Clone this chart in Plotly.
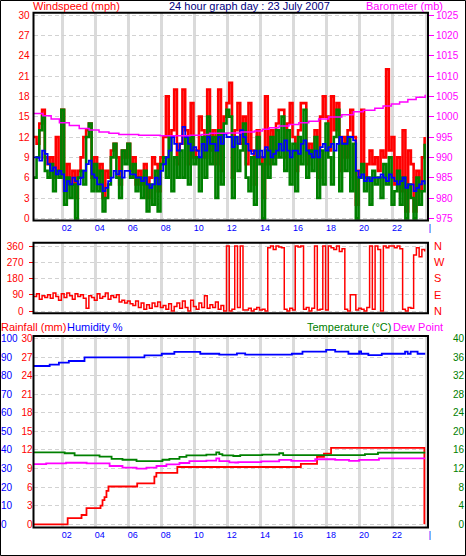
import plotly.graph_objects as go

W, H = 466, 556

# ---------------- data ----------------
start_hour = 0.25        # first sample 00:15
sample_step = 1 / 6      # 10-minute samples

wind_gust = [
    12, 11, 14, 16, 9,
    8, 9, 6, 12, 7, 16,
    4, 8, 5, 7, 3, 7,
    9, 12, 13, 14, 6, 9,
    6, 8, 3, 7, 6, 10,
    11, 9, 5, 10, 9, 11,
    7, 9, 5, 7, 5, 8,
    3, 6, 9, 8, 4, 9,
    12, 18, 12, 13, 19, 8,
    11, 19, 13, 8, 17, 9,
    10, 15, 13, 9, 19, 10,
    13, 8, 19, 7, 15, 17,
    20, 6, 13, 17, 11, 15,
    8, 17, 10, 5, 13, 9,
    3, 18, 8, 13, 9, 14,
    16, 16, 9, 14, 17, 12,
    7, 13, 17, 17, 8, 11,
    9, 13, 6, 15, 18, 15,
    10, 18, 13, 17, 7, 12,
    9, 13, 16, 12, 2, 7,
    16, 6, 8, 10, 8, 9,
    7, 10, 9, 22, 10, 12,
    5, 9, 4, 13, 1, 10,
    8, 1, 7, 4, 9, 12,
]
wind_speed = [
    6, 9, 13, 15, 7,
    6, 8, 4, 7, 6, 16,
    2, 6, 3, 5, 0, 6,
    7, 5, 12, 14, 4, 8,
    4, 7, 1, 3, 5, 9,
    11, 6, 3, 10, 8, 11,
    6, 8, 4, 6, 3, 7,
    1, 5, 2, 7, 1, 8,
    9, 6, 12, 4, 9, 6,
    10, 6, 12, 5, 12, 8,
    9, 4, 12, 6, 15, 8,
    12, 3, 13, 5, 14, 16,
    15, 3, 12, 7, 10, 14,
    6, 4, 9, 2, 12, 8,
    0, 10, 6, 12, 8, 13,
    9, 15, 7, 13, 5, 11,
    4, 12, 8, 16, 6, 10,
    7, 12, 3, 10, 5, 14,
    9, 5, 12, 16, 4, 11,
    7, 12, 4, 11, 0, 6,
    8, 4, 6, 2, 7, 5,
    6, 3, 8, 5, 9, 2,
    4, 7, 2, 6, 0, 5,
    3, 0, 6, 2, 4, 11,
]
wind_avg = [
    9, 9, 8.5, 10, 9.5,
    8, 7, 7.5, 6.5, 7, 6.5,
    4, 5.5, 5, 6, 5.5, 5,
    6, 7, 8, 8.5, 6.5, 6,
    5, 5, 4, 4.5, 5.5, 6,
    7, 6.5, 7, 6, 7, 7,
    6.5, 6.5, 6, 6, 5.5, 6,
    5, 4.5, 5, 6, 5, 7,
    8, 9, 10, 12, 11, 10,
    11, 13.5, 12, 11, 10, 10.5,
    10, 9, 11, 10, 12, 11,
    11, 10, 12, 11, 12.5, 12,
    12, 10.5, 12, 11, 13, 12,
    11, 10, 9.5, 10, 9, 10,
    9, 10.5, 10, 9, 9.5, 10,
    11, 10, 11.5, 10, 9, 10,
    10, 9.5, 11, 11.5, 10, 9.5,
    9, 10, 9, 10.5, 11, 10,
    10.5, 11, 10, 11, 12, 11,
    11, 12, 12, 11.5, 7, 6,
    6.5, 5.5, 6, 5.5, 6, 6,
    6, 6.5, 6, 5.5, 6.5, 6,
    5.5, 5, 5.5, 6, 4.5, 5,
    5, 4, 4.5, 5, 5.5, 5,
]
wind_dir = [
    80, 95, 65, 85, 75,
    90, 70, 100, 80, 60, 95,
    75, 100, 85, 65, 95, 80,
    90, 70, 15, 85, 75, 60,
    95, 70, 80, 100, 65, 85,
    75, 90, 50, 60, 45, 55,
    40, 30, 55, 20, 45, 10,
    35, 15, 45, 25, 50, 20,
    30, 10, 40, 0, 25, 45,
    15, 55, 20, 0, 60, 25,
    10, 45, 20, 85, 15, 35,
    20, 50, 10, 30, 0, 360,
    0, 10, 360, 20, 360, 5,
    5, 15, 0, 10, 20, 5,
    10, 0, 350, 360, 340, 360,
    355, 350, 10, 0, 15, 5,
    360, 355, 360, 10, 20, 0,
    15, 360, 5, 10, 360, 5,
    360, 350, 340, 360, 330, 345,
    10, 0, 90, 90, 5, 15,
    10, 0, 20, 360, 10, 360,
    340, 0, 360, 350, 360, 360,
    350, 360, 345, 10, 0, 20,
    15, 310, 350, 300, 340, 330,
]
sample_hours = [start_hour + i * sample_step for i in range(len(wind_gust))]

baro_hours = [0.25, 0.8, 1.3, 1.8, 2.4, 3.0, 3.6, 4.2, 4.8, 5.4, 6.6, 7.9, 9.7, 10.4,
              10.9, 12.0, 12.8, 13.6, 14.1, 14.5, 15.1, 15.7, 16.3, 16.9, 17.5, 18.1,
              18.9, 19.6, 20.2, 20.9, 21.4, 21.9, 22.4, 22.9, 23.4, 23.95]
baro_mb = [1000.8, 1000.2, 999.4, 998.5, 997.8, 997.1, 996.7, 996.2, 995.9, 995.6,
           995.4, 995.3, 995.4, 995.6, 995.9, 996.0, 996.2, 996.5, 996.9, 997.3,
           997.7, 998.1, 998.5, 998.9, 999.4, 999.9, 1000.5, 1001.2, 1001.6, 1002.1,
           1002.6, 1003.1, 1003.6, 1004.2, 1004.8, 1005.4]

hum_hours = [0.25, 1.21, 1.77, 2.37, 3.32, 6.95, 8.0, 8.76, 10.33, 11.48, 12.55, 13.05,
             15.88, 16.52, 17.95, 18.5, 19.3, 19.95, 20.07, 20.51, 21.32, 22.73, 22.89,
             23.07, 23.49, 23.95]
humidity = [85.2, 85.9, 87.0, 87.9, 89.8, 90.9, 91.8, 92.8, 91.8, 91.3, 92.0, 91.3,
            91.8, 92.9, 93.9, 92.9, 91.8, 93.0, 91.8, 91.1, 91.8, 92.9, 91.8, 92.9,
            91.8, 91.8]

temp_hours = [0.25, 2.12, 2.72, 4.23, 4.96, 5.62, 6.47, 8.04, 8.46, 9.07, 9.49, 10.7,
              11.3, 11.48, 11.67, 12.33, 12.75, 14.08, 15.11, 15.35, 20.3, 21.09, 23.95]
temperature = [15.5, 15.3, 14.85, 14.55, 14.1, 13.9, 13.6, 13.9, 14.1, 14.5, 14.85, 15.0,
               15.5, 15.1, 14.85, 14.7, 14.9, 15.0, 15.3, 14.9, 15.1, 15.45, 15.45]

dew_hours = [0.25, 1.0, 2.2, 3.45, 4.84, 5.62, 6.47, 7.07, 7.68, 8.28, 9.07, 9.67, 10.7,
             11.3, 11.48, 12.09, 12.45, 12.63, 14.02, 15.11, 15.84, 17.29, 18.5, 19.34,
             19.95, 21.15, 23.95]
dew_point = [12.97, 13.1, 13.25, 13.1, 12.55, 12.2, 12.0, 12.2, 12.55, 12.9, 13.2, 13.6,
             13.7, 14.2, 13.6, 13.35, 13.3, 13.4, 13.55, 13.85, 13.65, 14.0, 13.85, 13.65,
             13.85, 14.2, 14.2]

rain_hours = [0.25, 2.3, 3.14, 3.44, 4.29, 4.41, 4.53, 4.65, 4.77, 6.51, 7.55, 7.67,
              8.94, 16.42, 17.4, 17.82, 18.25, 23.9]
rainfall = [0, 1.0, 1.5, 2.6, 3.0, 3.9, 4.4, 5.4, 6.1, 6.6, 7.7, 8.3,
            9.25, 9.75, 10.9, 11.4, 12.35, 0]

time_tick_vals = [2, 4, 6, 8, 10, 12, 14, 16, 18, 20, 22, 24]
time_tick_text = ["02", "04", "06", "08", "10", "12", "14", "16", "18", "20", "22", "|"]
wind_ticks = [0, 3, 6, 9, 12, 15, 18, 21, 24, 27, 30]
baro_ticks = [975, 980, 985, 990, 995, 1000, 1005, 1010, 1015, 1020, 1025]
dir_ticks = [0, 90, 180, 270, 360]
compass_text = ["N", "E", "S", "W", "N"]
rain_ticks = [0, 3, 6, 9, 12, 15, 18, 21, 24, 27, 30]
hum_ticks = [0, 10, 20, 30, 40, 50, 60, 70, 80, 90, 100]
temp_ticks = [0, 4, 8, 12, 16, 20, 24, 28, 32, 36, 40]

# ---------------- style ----------------
FONT = "Liberation Sans, Arial, sans-serif"
RED, GREEN, BLUE, MAG, NAVY = "#ff0000", "#008000", "#0000ff", "#ff00ff", "#000080"
GRID_V, GRID_H = "#dadada", "#d2d2d2"


def px(x):
    return x / W


def py(y):
    return 1 - y / H


X_LEFT, X_RIGHT = 33.5, 428
TOP = (12.7, 220.5)
MID = (242.7, 313.3)
BOT = (336, 527.5)

fig = go.Figure()

# top panel
fig.add_trace(go.Scatter(x=sample_hours, y=wind_gust, mode="lines", line=dict(color=RED, width=2.6, shape="hv"),
                         xaxis="x", yaxis="y", hoverinfo="skip"))
fig.add_trace(go.Scatter(x=sample_hours, y=wind_speed, mode="lines", line=dict(color=GREEN, width=2.6, shape="hv"),
                         xaxis="x", yaxis="y", hoverinfo="skip"))
fig.add_trace(go.Scatter(x=sample_hours, y=wind_avg, mode="lines", line=dict(color=BLUE, width=1.8, shape="hv"),
                         xaxis="x", yaxis="y", hoverinfo="skip"))
fig.add_trace(go.Scatter(x=baro_hours, y=baro_mb, mode="lines", line=dict(color=MAG, width=1.5, shape="hv"),
                         xaxis="x", yaxis="y2", hoverinfo="skip"))
# middle panel
fig.add_trace(go.Scatter(x=sample_hours, y=wind_dir, mode="lines", line=dict(color=RED, width=1.5, shape="hv"),
                         xaxis="x2", yaxis="y3", hoverinfo="skip"))
fig.add_trace(go.Scatter(x=[], y=[], xaxis="x2", yaxis="y4", hoverinfo="skip"))
# bottom panel
fig.add_trace(go.Scatter(x=hum_hours, y=humidity, mode="lines", line=dict(color=BLUE, width=1.8, shape="hv"),
                         xaxis="x3", yaxis="y6", hoverinfo="skip"))
fig.add_trace(go.Scatter(x=temp_hours, y=temperature, mode="lines", line=dict(color=GREEN, width=1.8, shape="hv"),
                         xaxis="x3", yaxis="y7", hoverinfo="skip"))
fig.add_trace(go.Scatter(x=dew_hours, y=dew_point, mode="lines", line=dict(color=MAG, width=1.8, shape="hv"),
                         xaxis="x3", yaxis="y7", hoverinfo="skip"))
fig.add_trace(go.Scatter(x=rain_hours, y=rainfall, mode="lines", line=dict(color=RED, width=1.8, shape="hv"),
                         xaxis="x3", yaxis="y5", hoverinfo="skip"))

x_range = [0.231, 24.12]
x_common = dict(range=x_range, domain=[px(X_LEFT), px(X_RIGHT)], tickmode="array",
                tickvals=time_tick_vals, ticktext=time_tick_text, showgrid=True,
                gridcolor=GRID_V, gridwidth=3, zeroline=False, showline=False, ticks="",
                tickfont=dict(family=FONT, size=9, color=BLUE), ticklabelshift=4,
                automargin=False, fixedrange=True)
y_common = dict(zeroline=False, showline=False, automargin=False, fixedrange=True,
                tickmode="array")


def dom(panel):
    return [py(panel[1]), py(panel[0])]


fig.update_layout(
    width=W, height=H,
    margin=dict(l=0, r=0, t=0, b=0, pad=0),
    paper_bgcolor="white", plot_bgcolor="white",
    showlegend=False,
    font=dict(family=FONT),
    xaxis=dict(**x_common, anchor="y"),
    xaxis2=dict(**x_common, anchor="y3", matches="x", showticklabels=False),
    xaxis3=dict(**x_common, anchor="y5", matches="x"),
    yaxis=dict(**y_common, domain=dom(TOP), range=[-0.32, 30.34], tickvals=wind_ticks,
               showgrid=True, gridcolor=GRID_H, griddash="4px,3px", gridwidth=1,
               ticks="", ticklabelstandoff=3, tickfont=dict(family=FONT, size=10, color=RED)),
    yaxis2=dict(**y_common, overlaying="y", side="right", anchor="x",
                range=[975 + (-0.32) * 5 / 3, 975 + 30.34 * 5 / 3], tickvals=baro_ticks,
                showgrid=False, ticks="outside", ticklen=5, tickwidth=1, tickcolor=MAG,
                tickfont=dict(family=FONT, size=10, color=MAG)),
    yaxis3=dict(**y_common, domain=dom(MID), range=[-12.7, 378.3], tickvals=dir_ticks,
                showgrid=True, gridcolor=GRID_H, griddash="4px,3px", gridwidth=1,
                ticks="outside", ticklen=4, tickwidth=1, tickcolor=RED, ticklabelstandoff=3,
                tickfont=dict(family=FONT, size=10, color=RED)),
    yaxis4=dict(**y_common, overlaying="y3", side="right", anchor="x2", range=[-12.7, 378.3],
                tickvals=dir_ticks, ticktext=compass_text, showgrid=False, ticks="",
                ticklabelstandoff=5, tickfont=dict(family=FONT, size=11, color=RED)),
    yaxis5=dict(**y_common, domain=dom(BOT), range=[-0.516, 30.4], tickvals=rain_ticks,
                showgrid=True, gridcolor=GRID_H, griddash="4px,3px", gridwidth=1,
                ticks="", tickfont=dict(family=FONT, size=10, color=RED)),
    yaxis6=dict(**y_common, overlaying="y5", side="right", anchor="free", position=px(0),
                range=[-1.72, 101.35], tickvals=hum_ticks, showgrid=False, ticks="",
                tickfont=dict(family=FONT, size=10, color=BLUE)),
    yaxis7=dict(**y_common, overlaying="y5", side="left", anchor="free", position=px(464),
                range=[-0.69, 40.54], tickvals=temp_ticks, showgrid=False, ticks="",
                tickfont=dict(family=FONT, size=10, color=GREEN)),
)

# borders
shapes = [dict(type="rect", xref="paper", yref="paper", x0=px(0.5), x1=px(W - 0.5),
               y0=py(H - 0.5), y1=py(0.5), line=dict(color="black", width=1))]
for panel in (TOP, MID, BOT):
    shapes.append(dict(type="rect", xref="paper", yref="paper", x0=px(X_LEFT), x1=px(X_RIGHT),
                       y0=py(panel[1]), y1=py(panel[0]), line=dict(color="black", width=2)))
fig.update_layout(shapes=shapes)


def label(text, x, y, color, anchor):
    fig.add_annotation(text=text, x=px(x), y=py(y), xref="paper", yref="paper",
                       xanchor=anchor, yanchor="middle", showarrow=False,
                       font=dict(family=FONT, size=11, color=color), borderpad=0)


label("Windspeed (mph)", 32, 5.5, RED, "left")
label("24 hour graph day : 23 July 2007", 249, 5.5, NAVY, "center")
label("Barometer (mb)", 444, 5.5, MAG, "right")
label("Rainfall (mm)", 0, 327, RED, "left")
label("Humidity %", 66, 327, BLUE, "left")
label("Temperature (°C)", 392, 327, GREEN, "right")
label("Dew Point", 392, 327, MAG, "left")

fig.write_html("out.html", config={"displayModeBar": False},
               post_script="document.body.style.margin='0';document.body.style.overflow='hidden';")
